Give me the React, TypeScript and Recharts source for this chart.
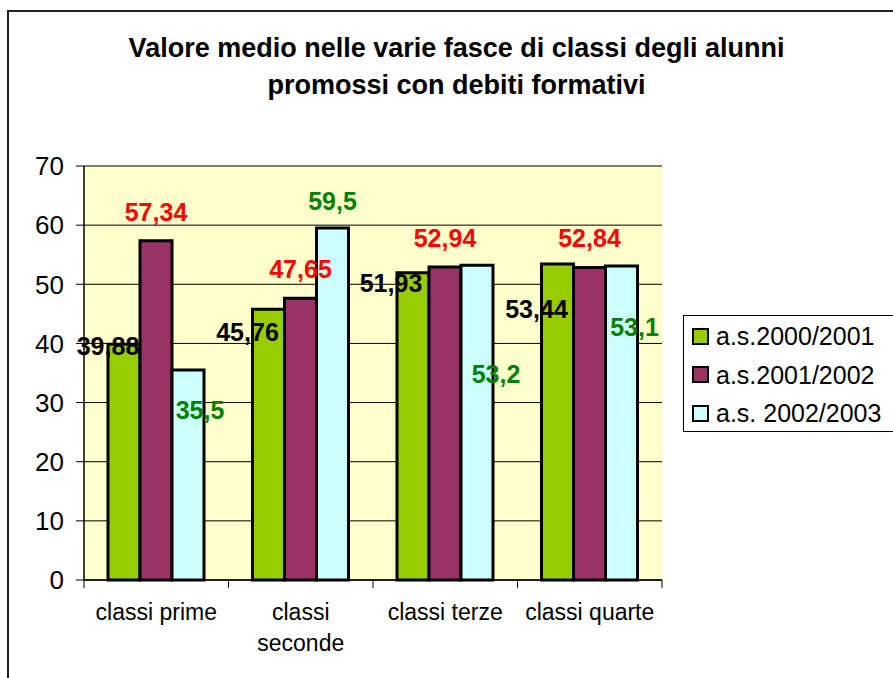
import React from "react";
import { BarChart, Bar, XAxis, YAxis, CartesianGrid, LabelList } from "recharts";

const categories = ["classi prime", "classi seconde", "classi terze", "classi quarte"];
const as2000 = [39.88, 45.76, 51.93, 53.44];
const as2001 = [57.34, 47.65, 52.94, 52.84];
const as2002 = [35.5, 59.5, 53.2, 53.1];
const yTicks = [0, 10, 20, 30, 40, 50, 60, 70];

const seriesNames = ["a.s.2000/2001", "a.s.2001/2002", "a.s. 2002/2003"];
const seriesColors = ["#99CC00", "#993366", "#CCFFFF"];

const data = categories.map((c, i) => ({
  name: c,
  s2000: as2000[i],
  s2001: as2001[i],
  s2002: as2002[i],
}));

// label nudges (centre of label relative to top-centre of the bar) as the labels were moved by hand
const nudge2000 = { dx: [-16, -21, -22, -21], dy: [2, 23, 10, 45] };
const nudge2001 = { dx: [0, 0, 0, 0], dy: [-29, -29, -29, -29] };
const nudge2002 = { dx: [12, 0, 19, 13], dy: [40, -27, 109, 61] };

const FONT = '"Liberation Sans", Arial, sans-serif';
const BAND = (662 - 84) / categories.length;

const fmt = (v: number) => String(v).replace(".", ",");

const makeLabel = (color: string, n: { dx: number[]; dy: number[] }) => (props: any) => {
  const { x, y, width, value, index } = props;
  const i = index ?? 0;
  const cx = Number(x) + Number(width) / 2 + n.dx[i];
  const cy = Number(y) + n.dy[i];
  return (
    <text
      x={cx}
      y={cy}
      textAnchor="middle"
      dominantBaseline="central"
      fill={color}
      fontSize={25}
      fontWeight="bold"
      fontFamily={FONT}
    >
      {fmt(Number(value))}
    </text>
  );
};

const CategoryTick = (props: any) => {
  const { x, y, payload, index } = props;
  const words = String(payload.value);
  const lines = words === "classi seconde" ? ["classi", "seconde"] : [words];
  return (
    <g>
      <line x1={x - BAND / 2} x2={x - BAND / 2} y1={y} y2={y + 8} stroke="#000" strokeWidth={1} />
      {index === categories.length - 1 && (
        <line x1={x + BAND / 2} x2={x + BAND / 2} y1={y} y2={y + 8} stroke="#000" strokeWidth={1} />
      )}
      {lines.map((l, k) => (
        <text key={k} x={x} y={y + 40 + k * 31} textAnchor="middle" fontSize={23} fontFamily={FONT} fill="#000">
          {l}
        </text>
      ))}
    </g>
  );
};

export default function App() {
  return (
    <div style={{ position: "absolute", left: 0, top: 0, width: 893, height: 678, overflow: "hidden", background: "#fff", fontFamily: FONT }}>
      <div style={{ position: "absolute", left: 7, top: 10, width: 950, height: 750, borderLeft: "2px solid #222", borderTop: "2px solid #222" }} />
      <div style={{ position: "absolute", left: 0, top: 30, width: 913, textAlign: "center", fontSize: 27, fontWeight: "bold", lineHeight: "37px", color: "#000" }}>
        Valore medio nelle varie fasce di classi degli alunni
        <br />
        promossi con debiti formativi
      </div>
      <div style={{ position: "absolute", left: 0, top: 0 }}>
        <BarChart
          width={893}
          height={678}
          data={data}
          margin={{ top: 166, right: 231, bottom: 8, left: 24 }}
          barGap={0}
          barSize={32}
        >
          <CartesianGrid vertical={false} fill="#FFFFCC" stroke="#000" strokeWidth={1} />
          <XAxis
            dataKey="name"
            height={90}
            axisLine={{ stroke: "#000", strokeWidth: 1.5 }}
            tickLine={false}
            tickSize={0}
            tickMargin={0}
            tick={<CategoryTick />}
            interval={0}
          />
          <XAxis xAxisId="top" dataKey="name" orientation="top" height={0} tick={false} tickLine={false} axisLine={{ stroke: "#808080", strokeWidth: 2 }} />
          <YAxis
            domain={[0, 70]}
            ticks={yTicks}
            width={60}
            interval={0}
            tickSize={8}
            tickMargin={12}
            axisLine={{ stroke: "#000", strokeWidth: 1.5 }}
            tickLine={{ stroke: "#000" }}
            tick={{ fontSize: 26, fill: "#000", fontFamily: FONT }}
          />
          <YAxis yAxisId="right" orientation="right" width={0} domain={[0, 70]} tick={false} tickLine={false} axisLine={{ stroke: "#808080", strokeWidth: 2.5 }} />
          <Bar dataKey="s2000" name={seriesNames[0]} fill={seriesColors[0]} stroke="#000" strokeWidth={3} isAnimationActive={false}>
            <LabelList dataKey="s2000" content={makeLabel("#000", nudge2000)} />
          </Bar>
          <Bar dataKey="s2001" name={seriesNames[1]} fill={seriesColors[1]} stroke="#000" strokeWidth={3} isAnimationActive={false}>
            <LabelList dataKey="s2001" content={makeLabel("#FF0000", nudge2001)} />
          </Bar>
          <Bar dataKey="s2002" name={seriesNames[2]} fill={seriesColors[2]} stroke="#000" strokeWidth={3} isAnimationActive={false}>
            <LabelList dataKey="s2002" content={makeLabel("#008000", nudge2002)} />
          </Bar>
        </BarChart>
      </div>
      <div style={{ position: "absolute", left: 683, top: 315, width: 215, height: 115, border: "1px solid #000", background: "#fff" }}>
        {seriesNames.map((n, i) => (
          <div key={n} style={{ position: "absolute", left: 8, top: 8 + i * 38.5, height: 24, display: "flex", alignItems: "center" }}>
            <div style={{ width: 13, height: 13, background: seriesColors[i], border: "2px solid #000", marginRight: 7 }} />
            <span style={{ fontSize: 25, lineHeight: "24px", color: "#000", whiteSpace: "nowrap" }}>{n}</span>
          </div>
        ))}
      </div>
    </div>
  );
}
